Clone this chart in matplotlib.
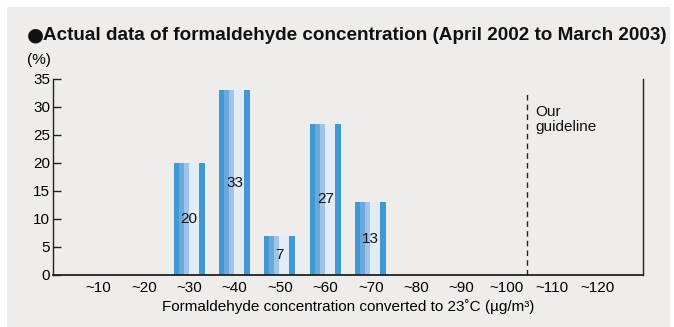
import matplotlib.pyplot as plt
import matplotlib.patches as mpatches

plt.rcParams["font.family"] = ["Liberation Sans", "DejaVu Sans"]

# share of measurements per concentration class (%)
categories = ["~10", "~20", "~30", "~40", "~50", "~60",
              "~70", "~80", "~90", "~100", "~110", "~120"]
shares = [0, 0, 20, 33, 7, 27, 13, 0, 0, 0, 0, 0]
guideline_pos = 9.44

# vertical stripes that make up each bar: (width, colour)
stripes = [(5, "#3e99d4"), (5, "#6ba8da"), (5, "#a0c4e8"),
           (10, "#e1ecf7"), (6, "#3e99d4")]
bar_width = 0.68


def main():
    fig = plt.figure(figsize=(6.74, 3.27), dpi=100)
    fig.patch.set_facecolor("white")
    fig.patches.append(mpatches.Rectangle(
        (7 / 674, 0), 663 / 674, 320 / 327, transform=fig.transFigure,
        facecolor="#eeedeb", edgecolor="none", zorder=-10))

    ax = fig.add_axes([53 / 674, 52 / 327, 590 / 674, 196 / 327])
    ax.set_facecolor("none")

    x = range(len(categories))
    total = sum(w for w, _ in stripes)
    left = -bar_width / 2
    for w, c in stripes:
        sw = bar_width * w / total
        ax.bar([i + left for i in x], shares, width=sw, align="edge",
               color=c, edgecolor="none", linewidth=0)
        left += sw

    for i, v in zip(x, shares):
        if v:
            ax.text(i, v / 2, str(v), ha="center", va="center",
                    fontsize=11, color="#111111")

    ax.plot([guideline_pos, guideline_pos], [0, 32.5], color="#222222",
            linewidth=1, linestyle=(0, (4, 3)))
    ax.text(guideline_pos + 0.18, 30.4, "Our\nguideline", ha="left",
            va="top", fontsize=11, linespacing=1.1, color="#111111")

    ax.set_xlim(-1, 12)
    ax.set_ylim(0, 35)
    ax.set_yticks(range(0, 36, 5))
    ax.set_xticks(list(x))
    ax.set_xticklabels(categories)
    ax.tick_params(axis="x", length=0, labelsize=11, pad=4)
    ax.tick_params(axis="y", direction="in", length=6, width=1,
                   labelsize=11, pad=2, color="#222222")
    ax.spines["top"].set_visible(False)
    for s in ("left", "right", "bottom"):
        ax.spines[s].set_color("#222222")
        ax.spines[s].set_linewidth(1)
    ax.spines["bottom"].set_linewidth(1.3)

    ax.set_xlabel("Formaldehyde concentration converted to 23\u02daC (\u00b5g/m\u00b3)",
                  fontsize=11, labelpad=3)

    # title: large round bullet followed by bold heading
    fig.text(27 / 674, 1 - 35 / 327, "\u25cf", family="DejaVu Sans",
             fontsize=14, va="center", ha="left", color="#111111")
    fig.text(43 / 674, 1 - 35 / 327,
             "Actual data of formaldehyde concentration (April 2002 to March 2003)",
             fontsize=13.6, fontweight="bold", va="center", ha="left",
             color="#111111")
    fig.text(27 / 674, 1 - 60 / 327, "(%)", fontsize=11, va="center",
             ha="left")
    return fig, ax


if __name__ == "__main__":
    fig, _ = main()
    fig.savefig("out.png", dpi=100)
